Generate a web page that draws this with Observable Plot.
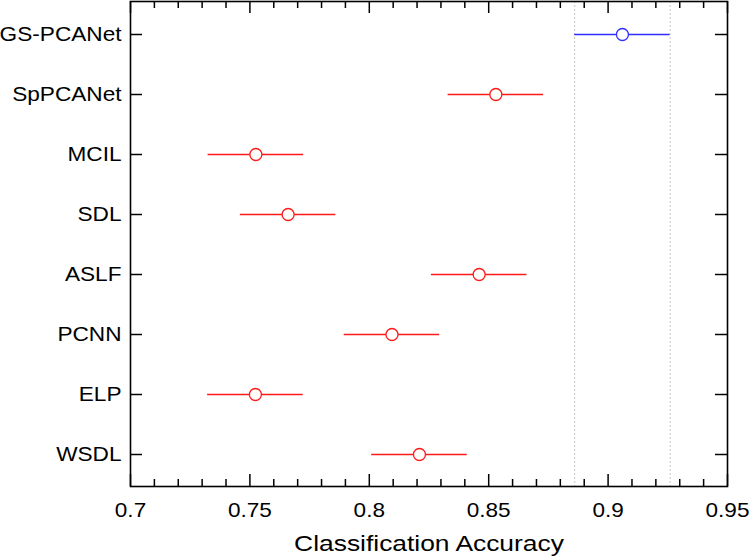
<!DOCTYPE html>
<html>
<head>
<meta charset="utf-8">
<script src="https://cdn.jsdelivr.net/npm/d3@7"></script>
<script src="https://cdn.jsdelivr.net/npm/@observablehq/plot@0.6"></script>
<style>
  html, body { margin: 0; padding: 0; background: #fff; }
</style>
</head>
<body>
<div id="chart"></div>
<script>
// Data
const methods = ["GS-PCANet", "SpPCANet", "MCIL", "SDL", "ASLF", "PCNN", "ELP", "WSDL"];
const accuracy = [0.906, 0.853, 0.7525, 0.766, 0.846, 0.8095, 0.7523, 0.821];
const halfWidth = [0.02, 0.02, 0.02, 0.02, 0.02, 0.02, 0.02, 0.02];
const seriesColor = ["#2f2fff", "#ff1a1a", "#ff1a1a", "#ff1a1a", "#ff1a1a", "#ff1a1a", "#ff1a1a", "#ff1a1a"];
const xMajorTicks = [0.7, 0.75, 0.8, 0.85, 0.9, 0.95];
const xMinorTicks = [0.71,0.72,0.73,0.74,0.76,0.77,0.78,0.79,0.81,0.82,0.83,0.84,0.86,0.87,0.88,0.89,0.91,0.92,0.93,0.94];
const xTickLabels = ["0.7", "0.75", "0.8", "0.85", "0.9", "0.95"];
const xTitle = "Classification Accuracy";

const data = methods.map((m, i) => ({
  method: m, acc: accuracy[i], lo: accuracy[i] - halfWidth[i], hi: accuracy[i] + halfWidth[i], color: seriesColor[i]
}));
const best = data[0];
const refLines = [best.lo, best.hi];

const W = 750, H = 559, mL = 130, mR = 23, mT = 1, mB = 73;
const frameW = W - mL - mR, frameH = H - mT - mB;
const major = 12, minor = 7;

const labelOf = v => xTickLabels[xMajorTicks.indexOf(v)] ?? String(v);

const chart = Plot.plot({
  width: W,
  height: H,
  marginLeft: mL,
  marginRight: mR,
  marginTop: mT,
  marginBottom: mB,
  style: { fontFamily: "'Liberation Sans', Arial, sans-serif", background: "#fff", color: "#000" },
  x: { domain: [0.7, 0.95] },
  y: { domain: methods, type: "point", padding: 0.5 },
  color: { type: "identity" },
  marks: [
    Plot.ruleX(refLines, { stroke: "#c8c8c8", strokeDasharray: "2,2", strokeWidth: 1 }),
    Plot.ruleY(data, { y: "method", x1: "lo", x2: "hi", stroke: "color", strokeWidth: 1.3 }),
    Plot.dot(data, { x: "acc", y: "method", r: 6, stroke: "color", fill: "white", strokeWidth: 1.3 }),
    // inward ticks: bottom & top
    Plot.ruleX(xMajorTicks, { stroke: "#000", strokeWidth: 1.5, insetTop: frameH - major }),
    Plot.ruleX(xMinorTicks, { stroke: "#000", strokeWidth: 1.5, insetTop: frameH - minor }),
    Plot.ruleX(xMajorTicks, { stroke: "#000", strokeWidth: 1.5, insetBottom: frameH - major }),
    Plot.ruleX(xMinorTicks, { stroke: "#000", strokeWidth: 1.5, insetBottom: frameH - minor }),
    // inward ticks: left & right
    Plot.ruleY(methods, { stroke: "#000", strokeWidth: 1.5, insetRight: frameW - major }),
    Plot.ruleY(methods, { stroke: "#000", strokeWidth: 1.5, insetLeft: frameW - major }),
    // labels
    Plot.axisX(xMajorTicks, { anchor: "bottom", tickSize: 0, tickPadding: 16, tickFormat: labelOf, fontSize: 20, label: null }),
    Plot.axisY({ anchor: "left", tickSize: 0, tickPadding: 9, fontSize: 19.5, label: null }),
    Plot.frame({ stroke: "#000", strokeWidth: 1.6 }),
    Plot.text([xTitle], { text: d => d, frameAnchor: "bottom", dy: 49, lineAnchor: "top", fontSize: 22, fill: "#000" })
  ]
});

document.getElementById("chart").appendChild(chart);

// The reference text is horizontally stretched; widen glyphs accordingly.
function stretch(selector, sx) {
  chart.querySelectorAll(selector).forEach(t => {
    const tr = t.getAttribute("transform") || "";
    t.setAttribute("transform", tr + ` scale(${sx},1)`);
  });
}
stretch('g[aria-label="x-axis tick label"] text', 1.13);
stretch('g[aria-label="y-axis tick label"] text', 1.16);
stretch('g[aria-label="text"] text', 1.2);
</script>
</body>
</html>
